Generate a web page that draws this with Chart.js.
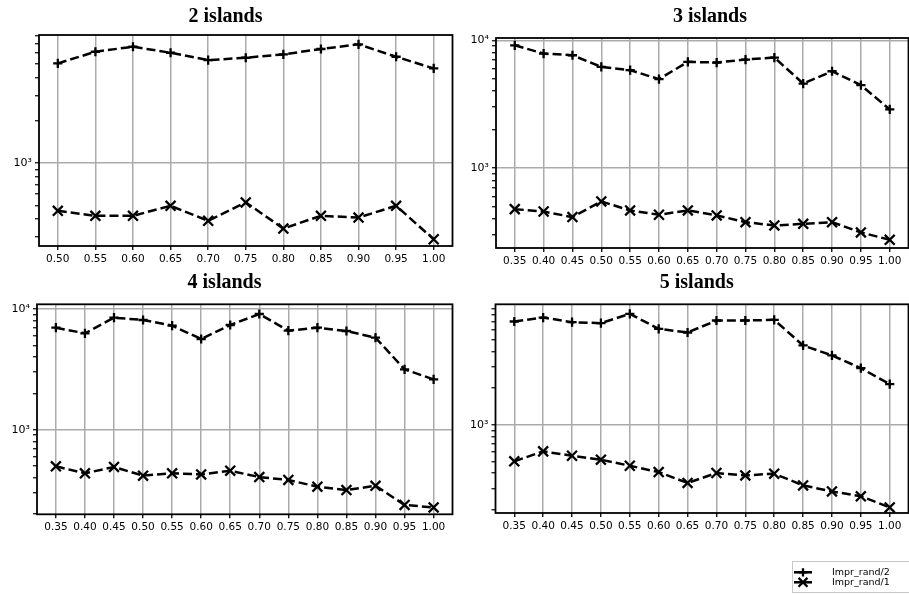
<!DOCTYPE html>
<html>
<head>
<meta charset="utf-8">
<script src="https://cdn.jsdelivr.net/npm/chart.js@4.4.1/dist/chart.umd.min.js"></script>
<style>
  html, body { margin: 0; padding: 0; background: #fff; width: 909px; height: 594px; overflow: hidden; }
  canvas { position: absolute; }
</style>
</head>
<body>
<canvas id="p2"></canvas>
<canvas id="p3"></canvas>
<canvas id="p4"></canvas>
<canvas id="p5"></canvas>
<script>
// Crossover thresholds on the x axis
const thresholdsTwo = [0.50, 0.55, 0.60, 0.65, 0.70, 0.75, 0.80, 0.85, 0.90, 0.95, 1.00];
const thresholds = [0.35, 0.40, 0.45, 0.50, 0.55, 0.60, 0.65, 0.70, 0.75, 0.80, 0.85, 0.90, 0.95, 1.00];

// Improvement counts per island configuration
const islands2Rand2 = [5060, 6120, 6640, 6020, 5340, 5550, 5860, 6400, 6910, 5640, 4660];
const islands2Rand1 = [458, 422, 422, 497, 389, 525, 343, 422, 410, 497, 288];
const islands3Rand2 = [9140, 7870, 7640, 6200, 5840, 4970, 6780, 6700, 7070, 7330, 4590, 5730, 4460, 2880];
const islands3Rand1 = [479, 459, 415, 550, 468, 433, 468, 428, 379, 357, 368, 379, 315, 276];
const islands4Rand2 = [7000, 6290, 8470, 8110, 7280, 5640, 7370, 9090, 6610, 7000, 6570, 5790, 3160, 2610];
const islands4Rand1 = [497, 435, 491, 416, 435, 426, 457, 405, 383, 337, 316, 343, 238, 227];
const islands5Rand2 = [7070, 7620, 6980, 6850, 8170, 6150, 5740, 7200, 7200, 7290, 4490, 3720, 2920, 2160];
const islands5Rand1 = [500, 604, 556, 516, 460, 408, 332, 401, 383, 396, 317, 283, 258, 209];

const panelTitles = ['2 islands', '3 islands', '4 islands', '5 islands'];
const seriesNames = ['Impr_rand/2', 'Impr_rand/1'];
const yRanges = [[258, 8040], [238, 10420], [199, 10940], [188, 9790]];

const SUP = { 0: '\u2070', 1: '\u00b9', 2: '\u00b2', 3: '\u00b3', 4: '\u2074', 5: '\u2075' };
const isPow10 = v => Math.abs(Math.log10(v) - Math.round(Math.log10(v))) < 1e-9;
const tickFont = { family: 'DejaVu Sans', size: 10.5 };

// Black frame around the plotting area
const framePlugin = {
  id: 'frame',
  afterDatasetsDraw(chart) {
    const { ctx, chartArea: a } = chart;
    ctx.save();
    ctx.strokeStyle = '#000';
    ctx.lineWidth = 1.8;
    ctx.strokeRect(a.left, a.top, a.right - a.left, a.bottom - a.top);
    ctx.restore();
  }
};

// Panel heading drawn at a given canvas position
const headingPlugin = {
  id: 'heading',
  afterDraw(chart, args, opts) {
    if (!opts.text) return;
    const ctx = chart.ctx;
    ctx.save();
    ctx.font = 'bold 20px "Liberation Serif", "Times New Roman", serif';
    ctx.fillStyle = '#000';
    ctx.textAlign = 'center';
    ctx.textBaseline = 'alphabetic';
    ctx.fillText(opts.text, opts.x, opts.y);
    ctx.restore();
  }
};

// Boxed key with line + marker samples for each series
const keyPlugin = {
  id: 'seriesKey',
  afterDraw(chart, args, opts) {
    if (!opts.show) return;
    const ctx = chart.ctx;
    ctx.save();
    ctx.fillStyle = '#fff';
    ctx.strokeStyle = '#c8c8c8';
    ctx.lineWidth = 1;
    ctx.fillRect(opts.x + 0.5, opts.y + 0.5, opts.w, opts.h);
    ctx.strokeRect(opts.x + 0.5, opts.y + 0.5, opts.w, opts.h);
    chart.data.datasets.forEach((ds, i) => {
      const cy = opts.y + opts.rowStart + i * opts.rowGap;
      ctx.strokeStyle = ds.borderColor;
      ctx.lineWidth = ds.borderWidth;
      ctx.setLineDash([]);
      ctx.beginPath();
      ctx.moveTo(opts.x + 2, cy);
      ctx.lineTo(opts.x + 20, cy);
      ctx.stroke();
      ctx.lineWidth = ds.pointBorderWidth;
      Chart.helpers.drawPoint(ctx, {
        pointStyle: ds.pointStyle, radius: ds.pointRadius * 0.9,
        rotation: 0, borderWidth: ds.pointBorderWidth
      }, opts.x + 11, cy);
      ctx.fillStyle = '#000';
      ctx.font = '9.5px "DejaVu Sans"';
      ctx.textAlign = 'left';
      ctx.textBaseline = 'middle';
      ctx.fillText(ds.label, opts.x + 40, cy);
    });
    ctx.restore();
  }
};

const panels = [
  { id: 'p2', x: 0, y: 0, w: 455, h: 270, area: { left: 39, right: 452.5, top: 35, bottom: 246 },
    xs: thresholdsTwo, s2: islands2Rand2, s1: islands2Rand1, title: panelTitles[0], range: yRanges[0],
    head: { x: 225.5, y: 21.7 } },
  { id: 'p3', x: 455, y: 0, w: 454, h: 270, area: { left: 41, right: 453.5, top: 38, bottom: 248 },
    xs: thresholds, s2: islands3Rand2, s1: islands3Rand1, title: panelTitles[1], range: yRanges[1],
    head: { x: 255, y: 22 } },
  { id: 'p4', x: 0, y: 265, w: 455, h: 270, area: { left: 37, right: 452.5, top: 39.3, bottom: 249.3 },
    xs: thresholds, s2: islands4Rand2, s1: islands4Rand1, title: panelTitles[2], range: yRanges[2],
    head: { x: 224.5, y: 22.7 } },
  { id: 'p5', x: 455, y: 265, w: 454, h: 329, area: { left: 40.5, right: 453.5, top: 39.3, bottom: 248 },
    xs: thresholds, s2: islands5Rand2, s1: islands5Rand1, title: panelTitles[3], range: yRanges[3],
    head: { x: 241.7, y: 22.7 }, key: true }
];

function buildPanel(p) {
  const canvas = document.getElementById(p.id);
  canvas.width = p.w;
  canvas.height = p.h;
  canvas.style.left = p.x + 'px';
  canvas.style.top = p.y + 'px';
  canvas.style.width = p.w + 'px';
  canvas.style.height = p.h + 'px';

  const lo = p.xs[0], hi = p.xs[p.xs.length - 1], margin = (hi - lo) * 0.05;
  const lineStyle = {
    borderColor: '#000', backgroundColor: '#000', borderWidth: 2.5, borderDash: [9, 4],
    pointBorderColor: '#000', pointBackgroundColor: '#000', pointBorderWidth: 2.3,
    fill: false, tension: 0
  };

  return new Chart(canvas, {
    type: 'line',
    data: {
      datasets: [
        Object.assign({ label: seriesNames[0], data: p.xs.map((x, i) => ({ x, y: p.s2[i] })),
          pointStyle: 'cross', pointRadius: 4.6 }, lineStyle),
        Object.assign({ label: seriesNames[1], data: p.xs.map((x, i) => ({ x, y: p.s1[i] })),
          pointStyle: 'crossRot', pointRadius: 7 }, lineStyle)
      ]
    },
    options: {
      responsive: false,
      animation: false,
      devicePixelRatio: 1,
      events: [],
      layout: {
        autoPadding: false,
        padding: { left: 0, top: p.area.top, right: p.w - p.area.right, bottom: 0 }
      },
      plugins: {
        legend: { display: false },
        tooltip: { enabled: false },
        heading: { text: p.title, x: p.head.x, y: p.head.y },
        seriesKey: { show: !!p.key, x: 337, y: 296, w: 130, h: 31, rowStart: 11.3, rowGap: 10 }
      },
      scales: {
        x: {
          type: 'linear',
          min: lo - margin,
          max: hi + margin,
          afterBuildTicks(s) { s.ticks = p.xs.map(v => ({ value: v })); },
          afterFit(s) { s.height = p.h - p.area.bottom; },
          ticks: { autoSkip: false, maxRotation: 0, color: '#000', font: tickFont, padding: 2.5,
                   callback: v => Number(v).toFixed(2) },
          grid: { color: '#ababab', lineWidth: 1.5, tickColor: '#000', tickLength: 4, tickWidth: 1.3 },
          border: { display: false }
        },
        y: {
          type: 'logarithmic',
          min: p.range[0],
          max: p.range[1],
          afterBuildTicks(s) {
            const ticks = [];
            const e0 = Math.floor(Math.log10(s.min)), e1 = Math.ceil(Math.log10(s.max));
            for (let e = e0; e <= e1; e++) {
              for (let m = 1; m <= 9; m++) {
                const v = m * Math.pow(10, e);
                if (v >= s.min && v <= s.max) ticks.push({ value: v, major: m === 1 });
              }
            }
            s.ticks = ticks;
          },
          afterFit(s) { s.width = p.area.left; },
          ticks: {
            autoSkip: false, color: '#000', font: { family: 'DejaVu Sans', size: 11 }, padding: 3,
            callback: v => isPow10(v) ? '10' + SUP[Math.round(Math.log10(v))] : ''
          },
          grid: {
            color: c => (c.tick && isPow10(c.tick.value)) ? '#ababab' : 'rgba(0,0,0,0)',
            lineWidth: 1.5, tickColor: '#000', tickLength: 4, tickWidth: 1.2
          },
          border: { display: false }
        }
      }
    },
    plugins: [framePlugin, headingPlugin, keyPlugin]
  });
}

panels.forEach(buildPanel);
</script>
</body>
</html>
